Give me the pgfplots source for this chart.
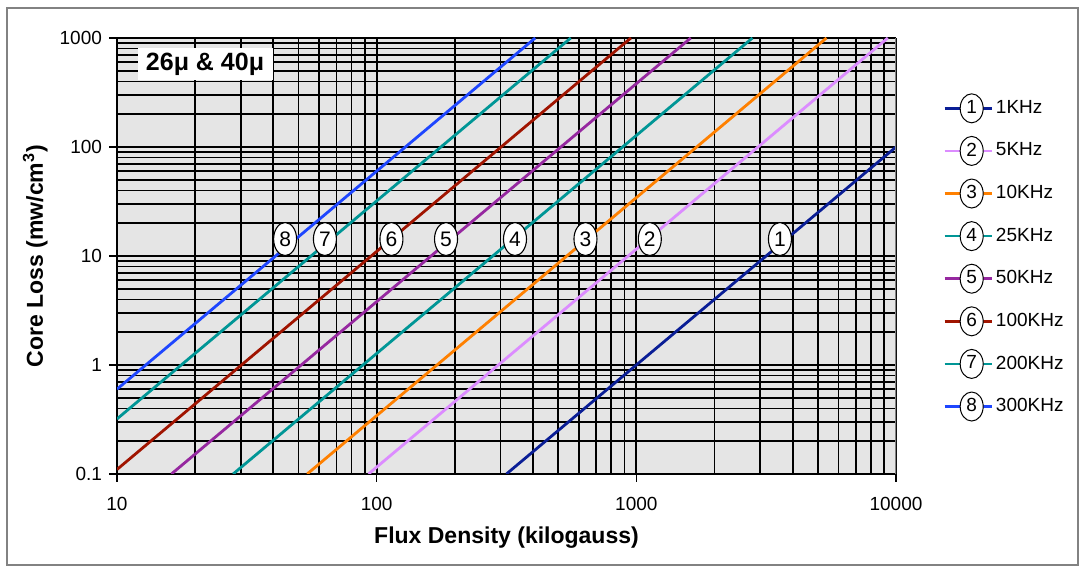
\documentclass[border=0pt]{standalone}
\usepackage{pgfplots}
\pgfplotsset{compat=1.18}
\usepackage{fontspec}
\setmainfont{Liberation Sans}
\usetikzlibrary{shapes.geometric}

\definecolor{cA}{RGB}{10,30,150}
\definecolor{cB}{RGB}{220,140,255}
\definecolor{cC}{RGB}{255,128,0}
\definecolor{cD}{RGB}{0,150,150}
\definecolor{cE}{RGB}{150,40,160}
\definecolor{cF}{RGB}{160,20,0}
\definecolor{cG}{RGB}{0,150,150}
\definecolor{cH}{RGB}{30,70,255}
\definecolor{bgc}{RGB}{229,229,229}
\definecolor{framec}{RGB}{130,130,130}

\pgfplotsset{lgd/.style={legend image code/.code={
  \draw[##1, line width=1.3pt] (0pt,0pt) -- (23.5pt,0pt);
  \node[ellipse, anchor=center, draw=black, solid, fill=white, line width=0.5pt, minimum width=11.5pt, minimum height=14.5pt, inner sep=0pt, text=black, font=\fontsize{9.5}{9.5}\selectfont] at (13.5pt,0pt) {#1};
}}}

\begin{document}
\begin{tikzpicture}
\begin{axis}[
  at={(0,0)}, anchor=south west,
  scale only axis, width=389.5pt, height=218pt,
  xmode=log, ymode=log,
  xmin=10, xmax=10000, ymin=0.1, ymax=1000,
  axis background/.style={fill=bgc},
  grid=both,
  major grid style={black, line width=0.85pt},
  minor grid style={black, line width=0.85pt},
  axis lines*=left,
  axis line style={black, line width=0.9pt, -},
  tick align=outside,
  major tick length=4pt, minor tick length=0pt,
  tick style={black, line width=0.8pt},
  xtick={10,100,1000,10000}, xticklabels={10,100,1000,10000},
  ytick={0.1,1,10,100,1000}, yticklabels={0.1,1,10,100,1000},
  tick label style={font=\fontsize{9.5}{11}\selectfont},
  xticklabel style={yshift=-4pt},
  xlabel={Flux Density (kilogauss)},
  ylabel={Core Loss (mw/cm\textsuperscript{3})},
  label style={font=\bfseries\fontsize{11.5}{13}\selectfont},
  xlabel style={at={(axis description cs:0.5,-0.147)}, anchor=center},
  ylabel style={at={(axis description cs:-0.105,0.5)}, anchor=center},
  legend style={at={(axis description cs:1.0603,0.874)}, anchor=north west, draw=none, fill=none, font=\fontsize{9.5}{11}\selectfont, row sep=6.3pt, inner sep=0pt, nodes={inner sep=1.5pt}},
  legend cell align=left,
  every axis plot/.append style={line width=1.4pt},
]
\addplot[cA, lgd=1] coordinates {(316,0.1) (10000,100)};
\addlegendentry{1KHz}
\addplot[cB, lgd=2] coordinates {(93,0.1) (9300,1000)};
\addlegendentry{5KHz}
\addplot[cC, lgd=3] coordinates {(54,0.1) (5400,1000)};
\addlegendentry{10KHz}
\addplot[cD, lgd=4] coordinates {(28,0.1) (2800,1000)};
\addlegendentry{25KHz}
\addplot[cE, lgd=5] coordinates {(16.2,0.1) (1620,1000)};
\addlegendentry{50KHz}
\addplot[cF, lgd=6] coordinates {(10,0.11) (953,1000)};
\addlegendentry{100KHz}
\addplot[cG, lgd=7] coordinates {(10,0.32) (559,1000)};
\addlegendentry{200KHz}
\addplot[cH, lgd=8] coordinates {(10,0.6) (408,1000)};
\addlegendentry{300KHz}
\addplot[draw=none, mark=none, forget plot, nodes near coords, point meta=explicit symbolic,
  every node near coord/.style={anchor=center, ellipse, draw=black, fill=white, line width=0.55pt, minimum width=11.5pt, minimum height=16.5pt, inner sep=0pt, font=\fontsize{10.5}{10.5}\selectfont, text=black}]
  table[meta=lab] {
x y lab
3573 14.3 1
1127 14.3 2
637 14.3 3
341 14.3 4
185 14.3 5
114 14.3 6
63.2 14.3 7
44.4 14.3 8
};
\draw[framec, line width=0.9pt] (rel axis cs:1,0) -- (rel axis cs:1,1);
\node[fill=white, minimum width=67.5pt, minimum height=16pt, inner sep=0pt, font=\bfseries\fontsize{12.5}{14}\selectfont] at (rel axis cs:0.113,0.940) {26μ \& 40μ};
\end{axis}
\draw[framec, line width=0.6pt] (-55pt,-45.5pt) rectangle (480.5pt,233pt);
\path[use as bounding box] (-58.5pt,-46.5pt) rectangle (483pt,237pt);
\end{tikzpicture}
\end{document}
